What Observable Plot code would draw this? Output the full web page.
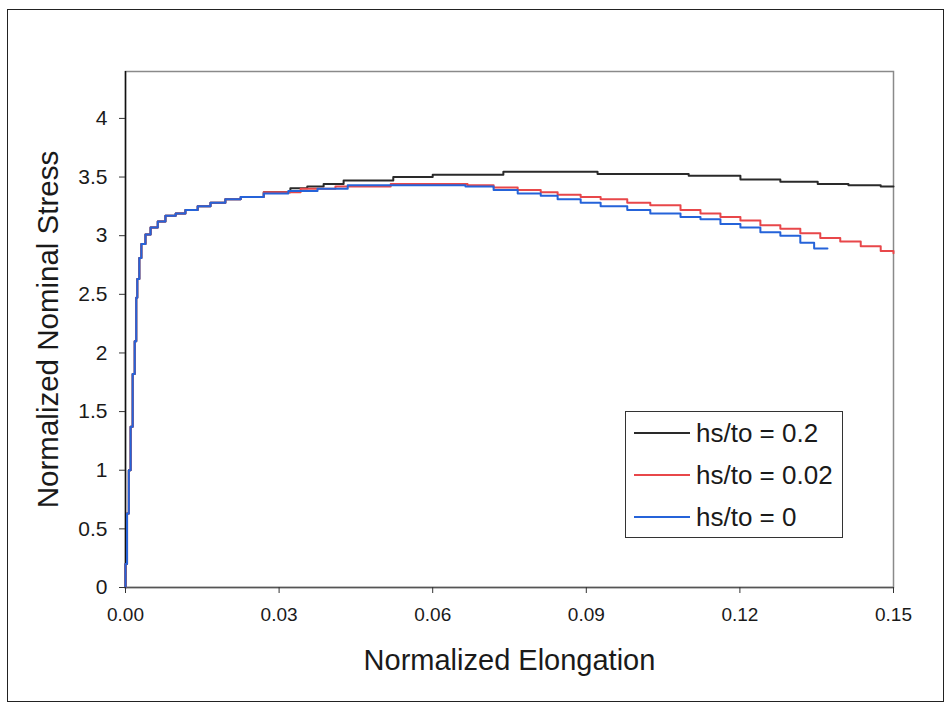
<!DOCTYPE html>
<html>
<head>
<meta charset="utf-8">
<script src="https://cdn.jsdelivr.net/npm/d3@7"></script>
<script src="https://cdn.jsdelivr.net/npm/@observablehq/plot@0.6"></script>
<style>
  html, body { margin: 0; padding: 0; background: #fff; }
  body { font-family: "Liberation Sans", Arial, sans-serif; color: #1a1a1a; }
  #wrap { position: relative; width: 948px; height: 703px; overflow: hidden; }
  #border { position: absolute; left: 7px; top: 9px; width: 937px; height: 693px; border: 1.5px solid #222; box-sizing: border-box; pointer-events: none; }
  #legend { position: absolute; left: 625px; top: 411px; width: 218px; height: 127px; border: 1.5px solid #333; box-sizing: border-box; background: #fff; }
  .row { position: absolute; left: 8px; height: 30px; display: flex; align-items: center; }
  .swatch { width: 56px; height: 0; border-top: 2px solid; margin-right: 6px; }
  .lab { font-size: 26px; line-height: 30px; white-space: pre; color: #1a1a1a; }
</style>
</head>
<body>
<div id="wrap"><div id="border"></div></div>
<script>
// ---- data ----
const seriesNames = ["hs/to = 0.2", "hs/to = 0.02", "hs/to = 0"];
const seriesColors = ["#2a2a2a", "#e8474a", "#2563d9"];

// common initial rise (shared by all three curves)
const riseX = [0, 0, 0.0003, 0.00065, 0.001, 0.0014, 0.0018, 0.0021, 0.0023, 0.0027, 0.0031, 0.0039, 0.0049, 0.0063, 0.0078, 0.0098, 0.0117, 0.0141, 0.0166, 0.0195, 0.0225];
const riseY = [0, 0.2, 0.63, 1.0, 1.37, 1.82, 2.1, 2.47, 2.63, 2.81, 2.93, 3.01, 3.07, 3.12, 3.17, 3.19, 3.22, 3.25, 3.28, 3.31, 3.33];

// hs/to = 0.2 (black)
const blackX = [0.0270, 0.0322, 0.0355, 0.0387, 0.0426, 0.0523, 0.0600, 0.0738, 0.0922, 0.1100, 0.1201, 0.1279, 0.1352, 0.1412, 0.1475, 0.1500];
const blackY = [3.37, 3.405, 3.42, 3.44, 3.47, 3.50, 3.52, 3.545, 3.525, 3.51, 3.48, 3.46, 3.44, 3.43, 3.42, 3.42];

// hs/to = 0.02 (red)
const redX = [0.0270, 0.0342, 0.0410, 0.0518, 0.0668, 0.0719, 0.0766, 0.0811, 0.0844, 0.0889, 0.0928, 0.0980, 0.1025, 0.1084, 0.1123, 0.1162, 0.1201, 0.1240, 0.1279, 0.1318, 0.1357, 0.1396, 0.1436, 0.1475, 0.1500];
const redY = [3.37, 3.40, 3.42, 3.44, 3.43, 3.41, 3.39, 3.37, 3.35, 3.33, 3.31, 3.28, 3.26, 3.22, 3.19, 3.16, 3.13, 3.09, 3.06, 3.02, 2.98, 2.95, 2.91, 2.87, 2.85];

// hs/to = 0 (blue)
const blueX = [0.0270, 0.0318, 0.0375, 0.0434, 0.0664, 0.0719, 0.0766, 0.0811, 0.0844, 0.0889, 0.0928, 0.0980, 0.1025, 0.1084, 0.1123, 0.1162, 0.1201, 0.1240, 0.1279, 0.1318, 0.1345, 0.1371];
const blueY = [3.36, 3.38, 3.40, 3.43, 3.42, 3.39, 3.36, 3.34, 3.31, 3.28, 3.25, 3.22, 3.19, 3.16, 3.14, 3.10, 3.07, 3.03, 3.00, 2.94, 2.89, 2.89];

const xTicks = [0, 0.03, 0.06, 0.09, 0.12, 0.15];
const yTicks = [0, 0.5, 1, 1.5, 2, 2.5, 3, 3.5, 4];
const xTitle = "Normalized Elongation";
const yTitle = "Normalized Nominal Stress";

// ---- build table ----
function build(name, xs, ys) {
  const pts = riseX.map((x, i) => ({series: name, x, y: riseY[i]}));
  xs.forEach((x, i) => pts.push({series: name, x, y: ys[i]}));
  return pts;
}
const data = [
  ...build(seriesNames[0], blackX, blackY),
  ...build(seriesNames[1], redX, redY),
  ...build(seriesNames[2], blueX, blueY)
];

const chart = Plot.plot({
  width: 948,
  height: 703,
  marginLeft: 125,
  marginRight: 55,
  marginTop: 71,
  marginBottom: 116,
  style: {fontFamily: "Liberation Sans, Arial, sans-serif", background: "#fff", color: "#1a1a1a"},
  x: {domain: [0, 0.15]},
  y: {domain: [0, 4.4]},
  color: {domain: seriesNames, range: seriesColors},
  marks: [
    Plot.frame({stroke: "#8a8a8a", strokeWidth: 1.5}),
    Plot.ruleY([0], {stroke: "#555", strokeWidth: 1.5}),
    Plot.ruleX([0], {stroke: "#111", strokeWidth: 1.5}),
    Plot.line(data, {x: "x", y: "y", z: "series", stroke: "series", strokeWidth: 2, curve: "step-after"}),
    Plot.axisX({ticks: xTicks, tickFormat: d3.format(".2f"), tickSize: 6, tickPadding: 14, fontSize: 19, label: null, stroke: "#333"}),
    Plot.axisY({ticks: yTicks, tickFormat: d => String(d), tickSize: 6, tickPadding: 12, fontSize: 21, label: null, stroke: "#333"}),
    Plot.text([xTitle], {frameAnchor: "bottom", textAnchor: "middle", dy: 82, fontSize: 29, fill: "#1a1a1a"}),
    Plot.text([yTitle], {frameAnchor: "left", textAnchor: "middle", dx: -77, rotate: -90, fontSize: 29.5, fill: "#1a1a1a"})
  ]
});

const wrap = document.getElementById("wrap");
wrap.insertBefore(chart, wrap.firstChild);

// legend (HTML overlay inside plot area)
const legend = document.createElement("div");
legend.id = "legend";
seriesNames.forEach((name, i) => {
  const row = document.createElement("div");
  row.className = "row";
  row.style.top = (6 + i * 42) + "px";
  const sw = document.createElement("div");
  sw.className = "swatch";
  sw.style.borderTopColor = seriesColors[i];
  const lab = document.createElement("span");
  lab.className = "lab";
  lab.textContent = name;
  row.appendChild(sw);
  row.appendChild(lab);
  legend.appendChild(row);
});
wrap.appendChild(legend);
</script>
</body>
</html>
